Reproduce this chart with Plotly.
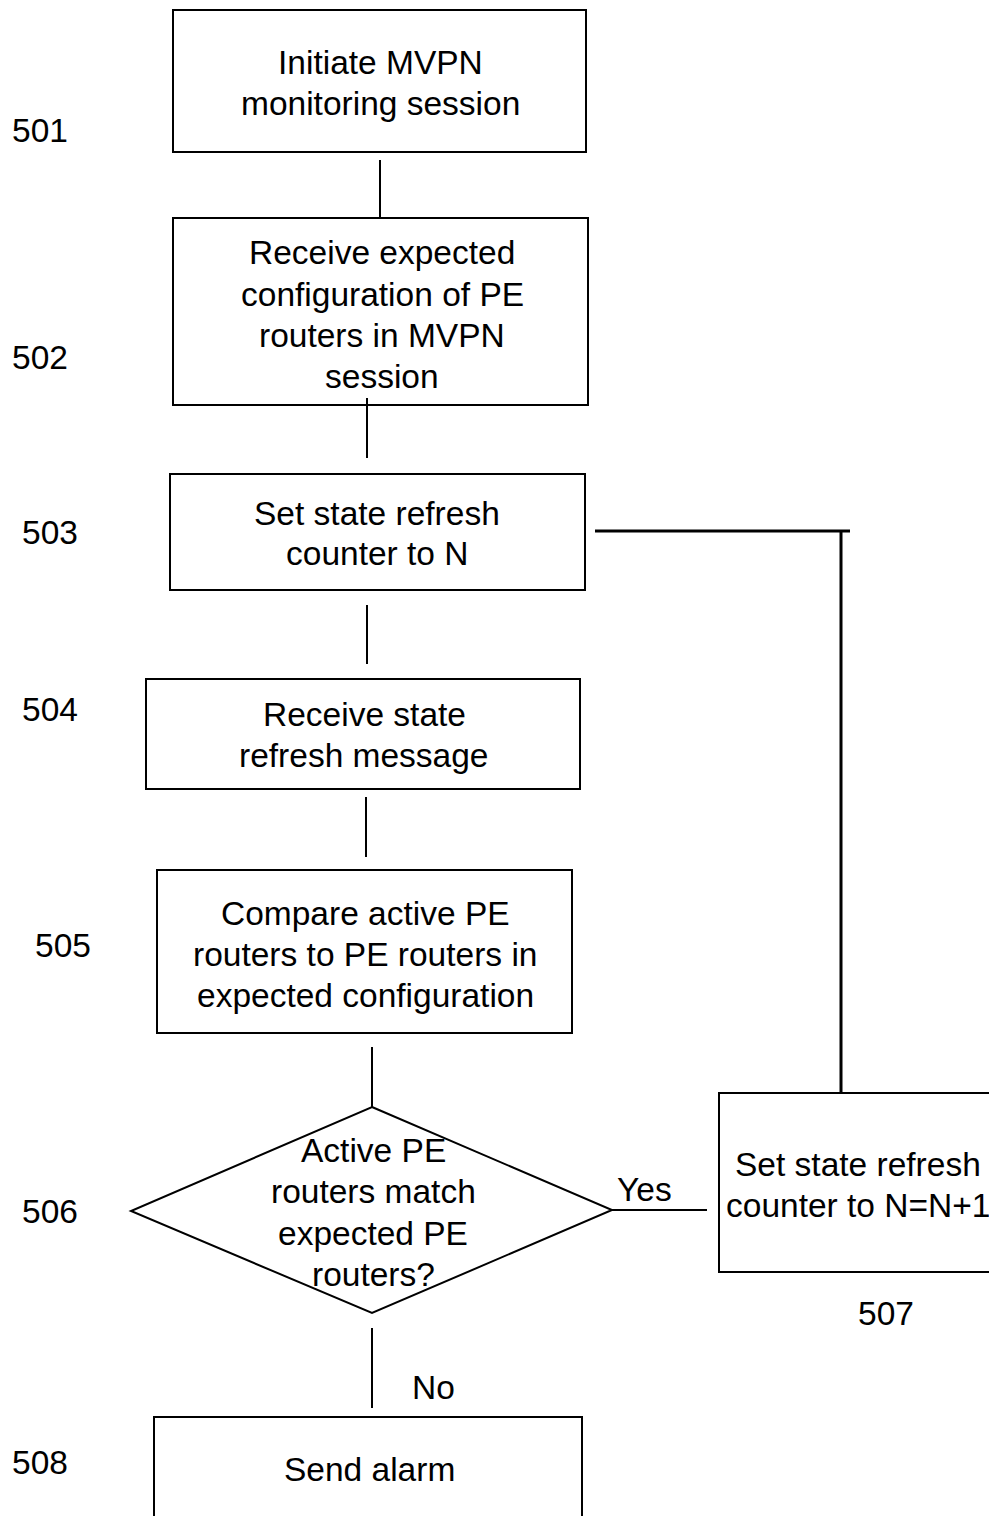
import plotly.graph_objects as go

# Step labels and texts
step_ids = ["501", "502", "503", "504", "505", "506", "507", "508"]
step_texts = [
    ["Initiate MVPN", "monitoring session"],
    ["Receive expected", "configuration of PE", "routers in MVPN", "session"],
    ["Set state refresh", "counter to N"],
    ["Receive state", "refresh message"],
    ["Compare active PE", "routers to PE routers in", "expected configuration"],
    ["Active PE", "routers match", "expected PE", "routers?"],
    ["Set state refresh", "counter to N=N+1"],
    ["Send alarm"],
]
branch_labels = ["Yes", "No"]

W, H = 997, 1516
PAD = 8  # default page body margin
FONT = "Liberation Sans, Arial, Helvetica, sans-serif"
FS = 33.5

# layout geometry (pixels)
boxes = {
    "501": (173, 10, 586, 152),
    "502": (173, 218, 588, 405),
    "503": (170, 474, 585, 590),
    "504": (146, 679, 580, 789),
    "505": (157, 870, 572, 1033),
    "507": (719, 1093, 1005, 1272),
    "508": (154, 1417, 582, 1530),
}
diamond = dict(top=(372, 1107), left=(131, 1211), right=(612, 1210), bottom=(372, 1313))

text_pos = {
    "501": (380, [62, 103]),
    "502": (382, [252, 294, 335, 376]),
    "503": (377, [513, 553]),
    "504": (364, [714, 755]),
    "505": (365, [913, 954, 995]),
    "506": (373, [1150, 1191, 1233, 1274]),
    "507": (858, [1164, 1205]),
    "508": (369, [1469]),
}
id_pos = {
    "501": (40, 130), "502": (40, 357), "503": (50, 532), "504": (50, 709),
    "505": (63, 945), "506": (50, 1211), "507": (886, 1313), "508": (40, 1462),
}
connectors = [
    ((380, 160), (380, 218), 2),
    ((367, 398), (367, 458), 2),
    ((367, 605), (367, 664), 2),
    ((366, 797), (366, 857), 2),
    ((372, 1047), (372, 1107), 2),
    ((595, 531), (850, 531), 3),
    ((841, 531), (841, 1093), 3),
    ((612, 1210), (707, 1210), 2),
    ((372, 1328), (372, 1408), 2),
]
branch_pos = [(644, 1189), (433, 1387)]

fig = go.Figure()
fig.add_trace(go.Scatter(x=[PAD, W], y=[PAD, H], mode="markers",
                         marker=dict(opacity=0), hoverinfo="skip", showlegend=False))

shapes = []
for k, (x0, y0, x1, y1) in boxes.items():
    shapes.append(dict(type="rect", xref="x", yref="y", x0=x0, y0=y0, x1=x1, y1=y1,
                       line=dict(color="black", width=2), fillcolor="rgba(0,0,0,0)"))
d = diamond
path = "M {} {} L {} {} L {} {} L {} {} Z".format(
    d["top"][0], d["top"][1], d["right"][0], d["right"][1],
    d["bottom"][0], d["bottom"][1], d["left"][0], d["left"][1])
shapes.append(dict(type="path", xref="x", yref="y", path=path,
                   line=dict(color="black", width=2)))
for (a, b, w) in connectors:
    shapes.append(dict(type="line", xref="x", yref="y", x0=a[0], y0=a[1], x1=b[0], y1=b[1],
                       line=dict(color="black", width=w)))

annotations = []
for sid, lines in zip(step_ids, step_texts):
    cx, ys = text_pos[sid]
    for line, y in zip(lines, ys):
        annotations.append(dict(x=cx, y=y, xref="x", yref="y", text=line, showarrow=False,
                                xanchor="center", yanchor="middle",
                                font=dict(family=FONT, size=FS, color="black")))
for sid in step_ids:
    x, y = id_pos[sid]
    annotations.append(dict(x=x, y=y, xref="x", yref="y", text=sid, showarrow=False,
                            xanchor="center", yanchor="middle",
                            font=dict(family=FONT, size=FS, color="black")))
for lab, (x, y) in zip(branch_labels, branch_pos):
    annotations.append(dict(x=x, y=y, xref="x", yref="y", text=lab, showarrow=False,
                            xanchor="center", yanchor="middle",
                            font=dict(family=FONT, size=FS, color="black")))

fig.update_layout(
    width=W - PAD, height=H - PAD,
    margin=dict(l=0, r=0, t=0, b=0),
    paper_bgcolor="white", plot_bgcolor="white",
    xaxis=dict(range=[PAD, W], visible=False, fixedrange=True),
    yaxis=dict(range=[H, PAD], visible=False, fixedrange=True),
    shapes=shapes, annotations=annotations, showlegend=False,
)
fig.write_html("out.html")
